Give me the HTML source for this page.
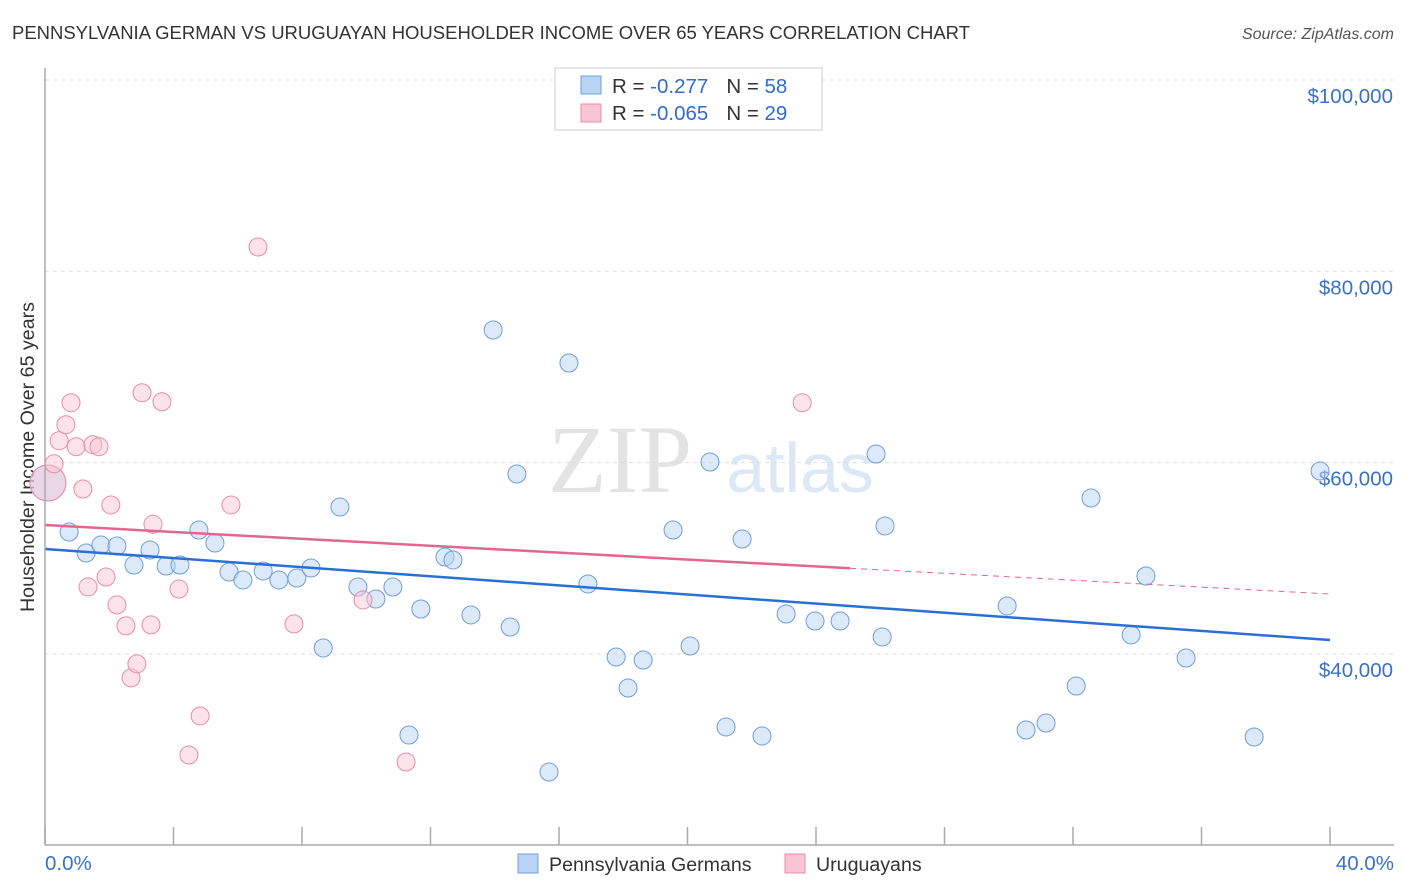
<!DOCTYPE html>
<html><head><meta charset="utf-8"><style>
body{margin:0;background:#fff;font-family:"Liberation Sans",sans-serif;}
#c{position:relative;width:1406px;height:892px;overflow:hidden;}
</style></head><body>
<div id="c">
<svg id="s" width="1406" height="892" xmlns="http://www.w3.org/2000/svg">
<text x="12" y="39" font-size="18.5" fill="#333" textLength="958" lengthAdjust="spacingAndGlyphs">PENNSYLVANIA GERMAN VS URUGUAYAN HOUSEHOLDER INCOME OVER 65 YEARS CORRELATION CHART</text>
<text x="1394" y="39" font-size="16" fill="#555" font-style="italic" text-anchor="end">Source: ZipAtlas.com</text>
<text x="620" y="492" font-size="96" fill="#e3e3e3" font-family="Liberation Serif,serif" text-anchor="middle">ZIP</text>
<text x="800" y="492" font-size="70" fill="#dce8f5" text-anchor="middle">atlas</text>
<text transform="translate(34,457) rotate(-90)" font-size="19" fill="#333" text-anchor="middle" textLength="310" lengthAdjust="spacingAndGlyphs">Householder Income Over 65 years</text>
<g id="grid"></g><g id="marks"></g>
<line x1="45" y1="68" x2="45" y2="845" stroke="#aaa" stroke-width="1.5"/>
<line x1="45" y1="845" x2="1394" y2="845" stroke="#aaa" stroke-width="1.5"/>
<text x="45" y="870" font-size="20.5" fill="#3a72c8">0.0%</text>
<text x="1394" y="870" font-size="20.5" fill="#3a72c8" text-anchor="end">40.0%</text>
<g>
<rect x="555" y="68" width="267" height="62" fill="#fff" stroke="#ccc"/>
<rect x="581" y="76" width="20" height="18" fill="#b8d4f4" stroke="#6f9ed8"/>
<rect x="581" y="104" width="20" height="18" fill="#f9c5d4" stroke="#e98ca8"/>
<text x="612" y="93" font-size="20.5" fill="#333">R = <tspan fill="#2f6bd0"> -0.277</tspan><tspan dx="18">N = </tspan><tspan fill="#2f6bd0">58</tspan></text>
<text x="612" y="120" font-size="20.5" fill="#333">R = <tspan fill="#2f6bd0">-0.065</tspan><tspan dx="18">N = </tspan><tspan fill="#2f6bd0">29</tspan></text>
</g>
<g>
<rect x="518" y="854" width="20" height="19" fill="#b8d4f4" stroke="#6f9ed8"/>
<text x="549" y="871" font-size="19.6" fill="#333">Pennsylvania Germans</text>
<rect x="785" y="854" width="20" height="19" fill="#f9c5d4" stroke="#e98ca8"/>
<text x="816" y="871" font-size="19.6" fill="#333">Uruguayans</text>
</g>
</svg></div>
<script>
const yTicks=[40000,60000,80000,100000];
const yTickLabels=["$40,000","$60,000","$80,000","$100,000"];
const xTicks=[0,4,8,12,16,20,24,28,32,36,40];
const blueX=[0.09,0.75,1.28,1.74,2.24,2.77,3.27,3.77,4.20,4.79,5.29,5.73,6.16,6.79,7.28,7.84,8.28,8.66,9.18,9.74,10.30,10.83,11.33,11.70,12.45,12.70,13.26,13.95,14.48,14.69,15.69,16.31,16.90,17.78,18.15,18.62,19.55,20.08,20.70,21.20,21.70,22.32,23.07,23.97,24.75,25.87,26.06,26.15,29.95,30.54,31.16,32.10,32.56,33.81,34.27,35.52,37.64,39.69];
const blueY=[57870,52740,50550,51380,51280,49290,50860,49190,49290,52950,51590,48560,47730,48670,47730,47930,48980,40620,55360,46990,45740,46990,31520,44690,50130,49820,44070,73860,42810,58810,27650,70410,47310,39670,36430,39360,52950,40820,60060,32360,52010,31420,44170,43440,43440,60900,41770,53370,45010,32040,32770,36640,56300,41980,48140,39570,31310,59120];
const pinkX=[0.09,0.28,0.44,0.65,0.81,0.97,1.18,1.34,1.49,1.68,1.90,2.05,2.24,2.52,2.68,2.86,3.02,3.36,3.30,3.64,4.17,4.48,4.83,5.79,6.63,7.75,9.90,11.24,23.57];
const pinkY=[57870,59880,62290,63960,66260,61660,57240,47000,61870,61660,48040,55570,45120,42930,37490,38960,67300,53560,43030,66360,46780,29430,33510,55570,82540,43140,45640,28700,66260];
const blueTrend=[50970,41450];
const pinkTrend=[53470,46260];
const pinkSolidEnd=25.06;
const X=v=>45+v/40*1285, Y=v=>80+(100000-v)/104.55;
const NS="http://www.w3.org/2000/svg";
function mk(t,a,p){const e=document.createElementNS(NS,t);for(const k in a)e.setAttribute(k,a[k]);p.appendChild(e);return e;}
const g=document.getElementById('grid'),m=document.getElementById('marks');
yTicks.forEach((v,i)=>{const l=mk('line',{x1:45,x2:1394,y1:Y(v),y2:Y(v),stroke:'#ddd','stroke-dasharray':'4,4'},g);


const t=mk('text',{x:1393,y:Y(v)+23,'font-size':20.5,fill:'#3a72c8','text-anchor':'end'},g);t.textContent=yTickLabels[i];

});
xTicks.forEach(v=>{const l=mk('line',{x1:X(v),x2:X(v),y1:827,y2:845,stroke:'#aaa','stroke-width':1.5},g);

});
function pts(xs,ys,fill,stroke,nm){xs.forEach((x,i)=>{const c=mk('circle',{cx:X(x),cy:Y(ys[i]),r:i==0?18:9,fill:fill,'fill-opacity':0.5,stroke:stroke,'stroke-width':1},m);

});}
pts(blueX,blueY,'#b8d4f4','#6f9ed8','pennsylvania-german-point');
pts(pinkX,pinkY,'#f9c5d4','#e98ca8','uruguayan-point');
const bl=mk('line',{x1:X(0),y1:Y(blueTrend[0]),x2:X(40),y2:Y(blueTrend[1]),stroke:'#2a6fd6','stroke-width':2.5},m);


const pm=pinkTrend[0]+(pinkTrend[1]-pinkTrend[0])*pinkSolidEnd/40;
const pl=mk('line',{x1:X(0),y1:Y(pinkTrend[0]),x2:X(pinkSolidEnd),y2:Y(pm),stroke:'#e2668f','stroke-width':2.5},m);


const pd=mk('line',{x1:X(pinkSolidEnd),y1:Y(pm),x2:X(40),y2:Y(pinkTrend[1]),stroke:'#e2668f','stroke-width':1,'stroke-dasharray':'6,5'},m);


</script>
</body></html>
